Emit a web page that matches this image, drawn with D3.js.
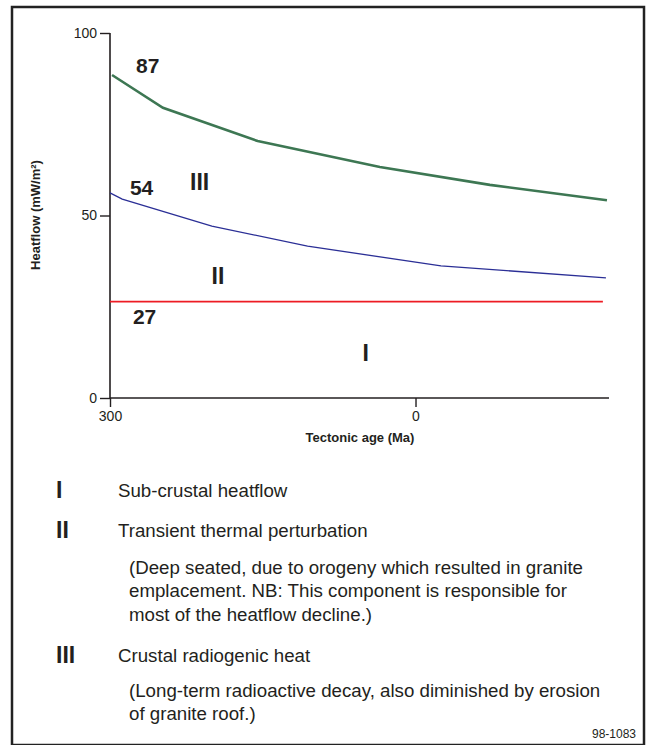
<!DOCTYPE html>
<html>
<head>
<meta charset="utf-8">
<script src="https://cdn.jsdelivr.net/npm/d3@7"></script>
<style>
  html, body { margin: 0; padding: 0; background: #fff; }
  svg { display: block; }
  text { font-family: "Liberation Sans", Arial, Helvetica, sans-serif; fill: #231f20; }
</style>
</head>
<body>
<svg id="chart" width="653" height="745"></svg>
<script>
// ---- Data ----
const ageTicks = [300, 0];
const heatTicks = [0, 50, 100];

// Component III upper boundary (total heatflow), green
const totalAge  = [298, 248, 155, 35, -73, -188];
const totalHeat = [88.5, 79.5, 70.4, 63.3, 58.4, 54.2];

// Component II upper boundary, blue
const transAge  = [300, 288, 200, 106, -25, -187];
const transHeat = [56.2, 54.5, 47.1, 41.6, 36.2, 32.9];

// Component I (sub-crustal), red
const subAge  = [300, -184];
const subHeat = [26.4, 26.4];

// In-plot annotations
const annoText = ["87", "54", "27", "III", "II", "I"];
const annoAge  = [263, 269, 266, 212, 194, 49];
const annoHeat = [91.2, 57.8, 22.2, 59.2, 33.4, 12.3];
const annoSize = [21, 21, 21, 23, 23, 23];

// Legend
const legendNum   = ["I", "II", "III"];
const legendTitle = ["Sub-crustal heatflow", "Transient thermal perturbation", "Crustal radiogenic heat"];
const legendNote  = [
  [],
  ["(Deep seated, due to orogeny which resulted in granite",
   "emplacement. NB: This component is responsible for",
   "most of the heatflow decline.)"],
  ["(Long-term radioactive decay, also diminished by erosion",
   "of granite roof.)"]
];

const svg = d3.select("#chart");

// frame
svg.append("rect")
  .attr("x", 12).attr("y", 7).attr("width", 632).attr("height", 738)
  .attr("fill", "none").attr("stroke", "#222").attr("stroke-width", 2.5);

const x = d3.scaleLinear().domain([300, -190]).range([110, 609]);
const y = d3.scaleLinear().domain([0, 100]).range([398, 33]);

// axes
const yAxis = d3.axisLeft(y).tickValues(heatTicks).tickSize(10).tickPadding(3).tickFormat(d3.format("d"));
const gy = svg.append("g").attr("transform", "translate(110,0)").call(yAxis);
gy.select(".domain").attr("d", `M0,${y(100)}V${y(0)}`);

const xAxis = d3.axisBottom(x).tickValues(ageTicks).tickSize(9).tickPadding(4).tickFormat(d3.format("d"));
const gx = svg.append("g").attr("transform", "translate(0,398)").call(xAxis);
gx.select(".domain").attr("d", `M${x(300)},0H${x(-190)}`);

[gx, gy].forEach(g => {
  g.select(".domain").attr("stroke", "#231f20").attr("stroke-width", 1.6);
  g.selectAll(".tick line").attr("stroke", "#231f20").attr("stroke-width", 1.4);
  g.selectAll(".tick text").attr("font-size", 14).attr("fill", "#231f20")
    .style("font-family", '"Liberation Sans", Arial, sans-serif');
});

// axis titles
svg.append("text")
  .attr("x", 360).attr("y", 442)
  .attr("text-anchor", "middle")
  .attr("font-size", 13).attr("font-weight", "bold")
  .text("Tectonic age (Ma)");

svg.append("text")
  .attr("transform", "translate(40,215) rotate(-90)")
  .attr("text-anchor", "middle")
  .attr("font-size", 13).attr("font-weight", "bold")
  .text("Heatflow (mW/m²)");

// lines
const line = d3.line().x(d => x(d[0])).y(d => y(d[1]));
const zip = (a, b) => a.map((v, i) => [v, b[i]]);

svg.append("path").datum(zip(subAge, subHeat))
  .attr("d", line).attr("fill", "none").attr("stroke", "#ed1c24").attr("stroke-width", 1.6);
svg.append("path").datum(zip(transAge, transHeat))
  .attr("d", line).attr("fill", "none").attr("stroke", "#2b2f96").attr("stroke-width", 1.3);
svg.append("path").datum(zip(totalAge, totalHeat))
  .attr("d", line).attr("fill", "none").attr("stroke", "#3d7753").attr("stroke-width", 2.6);

// annotations
svg.append("g").selectAll("text")
  .data(annoText)
  .join("text")
  .attr("x", (d, i) => x(annoAge[i]))
  .attr("y", (d, i) => y(annoHeat[i]))
  .attr("text-anchor", "middle")
  .attr("dominant-baseline", "central")
  .attr("font-size", (d, i) => annoSize[i])
  .attr("font-weight", "bold")
  .text(d => d);

// legend
const legendY = [490, 530, 655];
const noteY0 = [0, 567, 690];
legendNum.forEach((n, i) => {
  svg.append("text").attr("x", 56).attr("y", legendY[i] + 8)
    .attr("font-size", 23).attr("font-weight", "bold").text(n);
  svg.append("text").attr("x", 118).attr("y", legendY[i] + 6.5)
    .attr("font-size", 18.7).text(legendTitle[i]);
  legendNote[i].forEach((t, j) => {
    svg.append("text").attr("x", 129).attr("y", noteY0[i] + 6.5 + j * 23.6)
      .attr("font-size", 18.7).text(t);
  });
});

// figure code
svg.append("text").attr("x", 636).attr("y", 738)
  .attr("text-anchor", "end").attr("font-size", 12).text("98-1083");
</script>
</body>
</html>
